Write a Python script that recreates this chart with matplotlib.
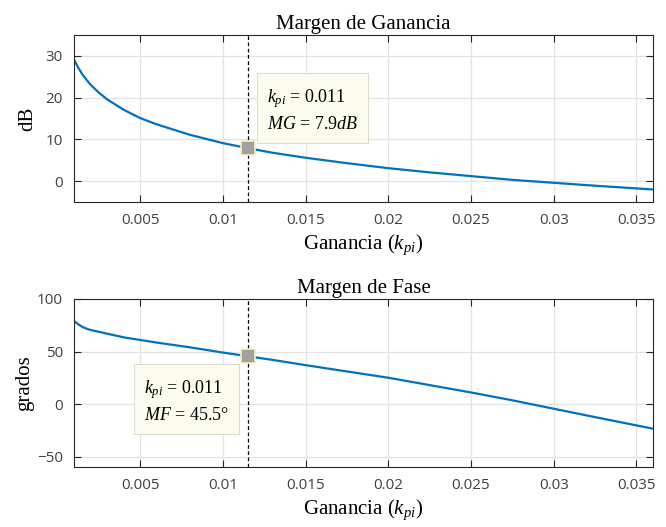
import matplotlib
matplotlib.use("Agg")
import matplotlib.pyplot as plt

plt.rcParams['mathtext.fontset'] = 'custom'
plt.rcParams['mathtext.rm'] = 'Liberation Serif'
plt.rcParams['mathtext.it'] = 'Liberation Serif:italic'
plt.rcParams['mathtext.bf'] = 'Liberation Serif:bold'

# Data
k_mg = [0.001, 0.00125, 0.0015, 0.00175, 0.002, 0.0025, 0.003, 0.004, 0.005, 0.006,
        0.008, 0.010, 0.0115, 0.013, 0.015, 0.0175, 0.020, 0.0225, 0.025, 0.0275,
        0.030, 0.0325, 0.036]
mg = [29.1, 27.2, 25.6, 24.3, 23.1, 21.2, 19.6, 17.1, 15.1, 13.6,
      11.1, 9.1, 7.9, 6.8, 5.6, 4.3, 3.1, 2.1, 1.2, 0.3,
      -0.4, -1.1, -2.0]

k_pm = [0.001, 0.00125, 0.0015, 0.00175, 0.002, 0.003, 0.004, 0.005, 0.006, 0.008,
        0.010, 0.0115, 0.013, 0.015, 0.0175, 0.020, 0.0225, 0.025, 0.0275,
        0.030, 0.0325, 0.036]
pm = [79.0, 76.0, 73.5, 71.8, 70.5, 67.0, 63.5, 61.0, 58.5, 54.0,
      49.0, 45.5, 42.0, 37.0, 31.0, 25.0, 18.0, 11.0, 3.5,
      -4.5, -12.5, -23.5]

k_sel = 0.0115
mg_sel = 7.9
pm_sel = 45.5

xticks = [0.005, 0.01, 0.015, 0.02, 0.025, 0.03, 0.035]
xticklabels = ['0.005', '0.01', '0.015', '0.02', '0.025', '0.03', '0.035']
yticks_mg = [0, 10, 20, 30]
yticks_pm = [-50, 0, 50, 100]

line_color = '#0072BD'
axis_color = '#262626'
tick_font = 'Open Sans'
serif = 'Liberation Serif'

fig = plt.figure(figsize=(6.66, 5.27), dpi=100)
W, H = 666, 527
ax1 = fig.add_axes([74 / W, 1 - 202 / H, (653 - 74) / W, (202 - 35) / H])
ax2 = fig.add_axes([74 / W, 1 - 467 / H, (653 - 74) / W, (467 - 299) / H])

def style(ax, yticks):
    ax.set_xlim(0.001, 0.036)
    ax.set_xticks(xticks)
    ax.set_xticklabels(xticklabels)
    ax.set_yticks(yticks)
    ax.grid(True, color='#e3e3e3', linewidth=0.9)
    ax.set_axisbelow(True)
    ax.tick_params(direction='in', top=True, right=True, length=5, width=0.8,
                   colors=axis_color, labelsize=11, pad=8)
    for lab in ax.get_xticklabels() + ax.get_yticklabels():
        lab.set_fontfamily(tick_font)
        lab.set_color('#404040')
    for sp in ax.spines.values():
        sp.set_color(axis_color)
        sp.set_linewidth(0.8)

box = dict(boxstyle='square,pad=0.55', facecolor='#fcfcee',
           edgecolor='#dcdcd0', linewidth=0.8)

# Top: gain margin
ax1.plot(k_mg, mg, color=line_color, linewidth=1.6)
ax1.set_ylim(-5, 35)
style(ax1, yticks_mg)
ax1.axvline(k_sel, color='black', linestyle=(0, (3, 2)), linewidth=0.9)
ax1.plot([k_sel], [mg_sel], marker='s', markersize=10, color='#a0a0a0',
         markeredgecolor='#f5f0c0', markeredgewidth=1.2, zorder=5)
ax1.set_title('Margen de Ganancia', fontfamily=serif, fontsize=15, pad=4)
ax1.set_ylabel('dB', fontfamily=serif, fontsize=15, labelpad=6)
ax1.set_xlabel(r'Ganancia $(k_{pi})$', fontfamily=serif, fontsize=15, labelpad=3)
ax1.text(0.01267, 22.6, '$k_{pi}$ = 0.011\n$MG$ = 7.9$dB$', fontfamily=serif,
         fontsize=13, va='top', ha='left', linespacing=1.5, bbox=box)

# Bottom: phase margin
ax2.plot(k_pm, pm, color=line_color, linewidth=1.6)
ax2.set_ylim(-60, 100)
style(ax2, yticks_pm)
ax2.axvline(k_sel, color='black', linestyle=(0, (3, 2)), linewidth=0.9)
ax2.plot([k_sel], [pm_sel], marker='s', markersize=10, color='#a0a0a0',
         markeredgecolor='#f5f0c0', markeredgewidth=1.2, zorder=5)
ax2.set_title('Margen de Fase', fontfamily=serif, fontsize=15, pad=4)
ax2.set_ylabel('grados', fontfamily=serif, fontsize=15, labelpad=2)
ax2.set_xlabel(r'Ganancia $(k_{pi})$', fontfamily=serif, fontsize=15, labelpad=3)
ax2.text(0.00524, 25, '$k_{pi}$ = 0.011\n$MF$ = 45.5°', fontfamily=serif,
         fontsize=13, va='top', ha='left', linespacing=1.5, bbox=box)

fig.savefig('out.png', dpi=100)
